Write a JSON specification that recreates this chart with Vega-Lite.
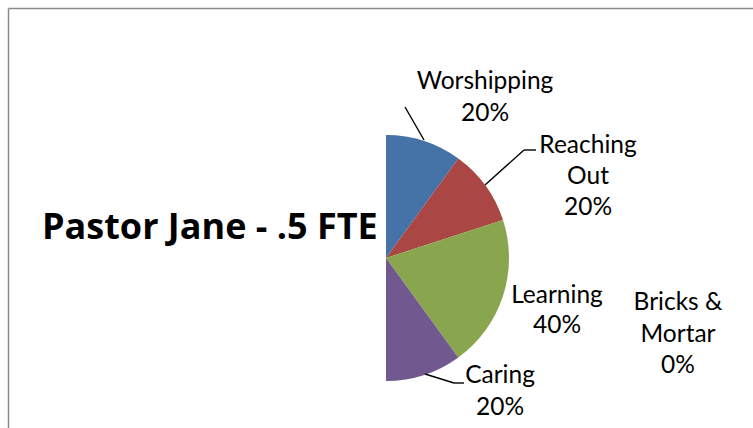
{
  "$schema": "https://vega.github.io/schema/vega-lite/v6.json",
  "width": 745,
  "height": 420,
  "autosize": {"type": "none"},
  "padding": {"left": 8, "top": 8, "right": 0, "bottom": 0},
  "background": "white",
  "config": {"view": {"stroke": null}, "font": "Lato"},
  "data": {"values": [
    {"n": 1, "category": "Worshipping", "value": 20, "label": "Worshipping\n20%"},
    {"n": 2, "category": "Reaching Out", "value": 20, "label": "Reaching\nOut\n20%"},
    {"n": 3, "category": "Learning", "value": 40, "label": "Learning\n40%"},
    {"n": 4, "category": "Caring", "value": 20, "label": "Caring\n20%"},
    {"n": 5, "category": "Bricks & Mortar", "value": 0, "label": "Bricks &\nMortar\n0%"}
  ]},
  "layer": [
    {
      "mark": {"type": "arc", "radius": 123},
      "encoding": {
        "x": {"datum": 0, "type": "quantitative", "scale": {"domain": [-378, 367], "nice": false, "zero": false},
              "axis": {"orient": "top", "domain": true, "domainColor": "#8a8a8a", "domainWidth": 1.5, "ticks": false, "labels": false, "grid": false, "title": null}},
        "y": {"datum": 0, "type": "quantitative", "scale": {"domain": [-170, 250], "nice": false, "zero": false},
              "axis": {"orient": "left", "domain": true, "domainColor": "#8a8a8a", "domainWidth": 1.5, "ticks": false, "labels": false, "grid": false, "title": null}},
        "theta": {"field": "value", "type": "quantitative", "stack": true, "scale": {"domain": [0, 100], "range": [0, 3.14159265]}},
        "color": {"field": "category", "type": "nominal",
                  "scale": {"domain": ["Worshipping", "Reaching Out", "Learning", "Caring", "Bricks & Mortar"],
                            "range": ["#4572A7", "#AA4643", "#89A54E", "#71588F", "#4198AF"]},
                  "legend": null},
        "order": {"field": "n", "type": "quantitative"}
      }
    },
    {
      "data": {"values": [{}]},
      "mark": {"type": "rule", "color": "black", "strokeWidth": 1.4},
      "encoding": {"x": {"datum": 19, "type": "quantitative"}, "y": {"datum": 151, "type": "quantitative"}, "x2": {"datum": 38}, "y2": {"datum": 118}}
    },
    {
      "data": {"values": [{}]},
      "mark": {"type": "rule", "color": "black", "strokeWidth": 1.4},
      "encoding": {"x": {"datum": 99, "type": "quantitative"}, "y": {"datum": 73, "type": "quantitative"}, "x2": {"datum": 138}, "y2": {"datum": 108}}
    },
    {
      "data": {"values": [{}]},
      "mark": {"type": "rule", "color": "black", "strokeWidth": 1.4},
      "encoding": {"x": {"datum": 138, "type": "quantitative"}, "y": {"datum": 108, "type": "quantitative"}, "x2": {"datum": 150}, "y2": {"datum": 108}}
    },
    {
      "data": {"values": [{}]},
      "mark": {"type": "rule", "color": "black", "strokeWidth": 1.4},
      "encoding": {"x": {"datum": 39, "type": "quantitative"}, "y": {"datum": -116, "type": "quantitative"}, "x2": {"datum": 68}, "y2": {"datum": -125}}
    },
    {
      "data": {"values": [{}]},
      "mark": {"type": "rule", "color": "black", "strokeWidth": 1.4},
      "encoding": {"x": {"datum": 68, "type": "quantitative"}, "y": {"datum": -125, "type": "quantitative"}, "x2": {"datum": 78}, "y2": {"datum": -125}}
    },
    {
      "transform": [{"filter": "datum.n === 1"}],
      "mark": {"type": "text", "align": "center", "baseline": "alphabetic", "lineBreak": "\n", "fontSize": 24.5, "lineHeight": 32, "font": "Lato", "fill": "#000000"},
      "encoding": {"x": {"datum": 99, "type": "quantitative"}, "y": {"datum": 169, "type": "quantitative"}, "text": {"field": "label"}}
    },
    {
      "transform": [{"filter": "datum.n === 2"}],
      "mark": {"type": "text", "align": "center", "baseline": "alphabetic", "lineBreak": "\n", "fontSize": 24.5, "lineHeight": 31, "font": "Lato", "fill": "#000000"},
      "encoding": {"x": {"datum": 202, "type": "quantitative"}, "y": {"datum": 105, "type": "quantitative"}, "text": {"field": "label"}}
    },
    {
      "transform": [{"filter": "datum.n === 3"}],
      "mark": {"type": "text", "align": "center", "baseline": "alphabetic", "lineBreak": "\n", "fontSize": 24.5, "lineHeight": 30, "font": "Lato", "fill": "#000000"},
      "encoding": {"x": {"datum": 171, "type": "quantitative"}, "y": {"datum": -45, "type": "quantitative"}, "text": {"field": "label"}}
    },
    {
      "transform": [{"filter": "datum.n === 4"}],
      "mark": {"type": "text", "align": "center", "baseline": "alphabetic", "lineBreak": "\n", "fontSize": 24.5, "lineHeight": 32, "font": "Lato", "fill": "#000000"},
      "encoding": {"x": {"datum": 114, "type": "quantitative"}, "y": {"datum": -125, "type": "quantitative"}, "text": {"field": "label"}}
    },
    {
      "transform": [{"filter": "datum.n === 5"}],
      "mark": {"type": "text", "align": "center", "baseline": "alphabetic", "lineBreak": "\n", "fontSize": 24.5, "lineHeight": 31.5, "font": "Lato", "fill": "#000000"},
      "encoding": {"x": {"datum": 292, "type": "quantitative"}, "y": {"datum": -52, "type": "quantitative"}, "text": {"field": "label"}}
    },
    {
      "data": {"values": [{}]},
      "mark": {"type": "text", "align": "left", "baseline": "alphabetic", "fontSize": 36, "fontWeight": "bold", "font": "Open Sans", "fill": "#000000"},
      "encoding": {"x": {"datum": -344, "type": "quantitative"}, "y": {"datum": 19, "type": "quantitative"}, "text": {"value": "Pastor Jane - .5 FTE"}}
    }
  ]
}
